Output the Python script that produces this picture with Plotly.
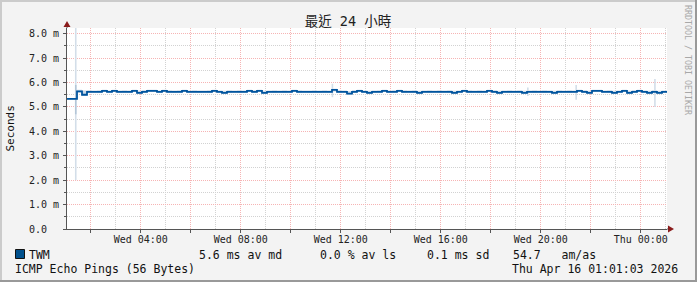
import plotly.graph_objects as go
import pandas as pd

# ---------------- data ----------------
start = "2026-04-15 01:03"
end = "2026-04-16 01:03"
step_minutes = 12

median_ms = [
    5.33, 5.33, 5.64, 5.50, 5.62, 5.62, 5.62, 5.66, 5.62, 5.66,
    5.62, 5.62, 5.62, 5.66, 5.58, 5.62, 5.66, 5.66, 5.62, 5.66,
    5.62, 5.62, 5.62, 5.66, 5.62, 5.62, 5.62, 5.62, 5.62, 5.66,
    5.62, 5.58, 5.62, 5.62, 5.62, 5.62, 5.66, 5.62, 5.66, 5.58,
    5.62, 5.62, 5.62, 5.62, 5.62, 5.66, 5.62, 5.62, 5.62, 5.62,
    5.62, 5.62, 5.62, 5.70, 5.62, 5.62, 5.55, 5.62, 5.66, 5.62,
    5.58, 5.62, 5.62, 5.66, 5.62, 5.62, 5.66, 5.62, 5.62, 5.62,
    5.58, 5.62, 5.62, 5.62, 5.62, 5.62, 5.62, 5.58, 5.62, 5.66,
    5.62, 5.62, 5.62, 5.62, 5.66, 5.62, 5.58, 5.62, 5.62, 5.62,
    5.62, 5.58, 5.62, 5.62, 5.62, 5.62, 5.62, 5.58, 5.62, 5.62,
    5.62, 5.62, 5.66, 5.62, 5.58, 5.66, 5.66, 5.62, 5.62, 5.58,
    5.62, 5.66, 5.58, 5.62, 5.66, 5.62, 5.58, 5.62, 5.58, 5.62,
]
smoke_hi = [
    5.37, 5.37, 5.70, 5.67, 5.68, 5.67, 5.68, 5.71, 5.67, 5.71,
    5.67, 5.68, 5.67, 5.71, 5.66, 5.68, 5.71, 5.71, 5.67, 5.71,
    5.68, 5.67, 5.68, 5.71, 5.67, 5.68, 5.67, 5.67, 5.68, 5.71,
    5.67, 5.66, 5.68, 5.67, 5.68, 5.67, 5.71, 5.68, 5.71, 5.66,
    5.67, 5.68, 5.67, 5.68, 5.67, 5.71, 5.68, 5.67, 5.67, 5.68,
    5.67, 5.68, 5.67, 5.75, 5.68, 5.67, 5.64, 5.68, 5.71, 5.67,
    5.66, 5.67, 5.68, 5.71, 5.67, 5.68, 5.71, 5.68, 5.67, 5.68,
    5.66, 5.67, 5.68, 5.67, 5.68, 5.67, 5.68, 5.66, 5.67, 5.71,
    5.68, 5.67, 5.68, 5.67, 5.71, 5.68, 5.66, 5.67, 5.68, 5.67,
    5.68, 5.66, 5.67, 5.68, 5.67, 5.68, 5.67, 5.66, 5.68, 5.67,
    5.68, 5.67, 5.71, 5.68, 5.66, 5.71, 5.71, 5.67, 5.68, 5.66,
    5.67, 5.71, 5.66, 5.68, 5.71, 5.67, 5.66, 5.68, 5.66, 5.67,
]
smoke_lo = [
    5.29, 5.29, 5.58, 5.45, 5.57, 5.58, 5.57, 5.61, 5.58, 5.61,
    5.57, 5.58, 5.57, 5.61, 5.53, 5.58, 5.61, 5.61, 5.57, 5.61,
    5.58, 5.57, 5.58, 5.61, 5.57, 5.58, 5.57, 5.58, 5.57, 5.61,
    5.58, 5.53, 5.57, 5.58, 5.57, 5.58, 5.61, 5.57, 5.61, 5.53,
    5.58, 5.57, 5.58, 5.57, 5.58, 5.61, 5.57, 5.58, 5.57, 5.58,
    5.57, 5.58, 5.57, 5.63, 5.57, 5.58, 5.50, 5.57, 5.61, 5.58,
    5.53, 5.57, 5.58, 5.61, 5.57, 5.58, 5.61, 5.57, 5.58, 5.57,
    5.53, 5.58, 5.57, 5.58, 5.57, 5.58, 5.57, 5.53, 5.58, 5.61,
    5.57, 5.58, 5.57, 5.58, 5.61, 5.57, 5.53, 5.58, 5.57, 5.58,
    5.57, 5.53, 5.58, 5.57, 5.58, 5.57, 5.58, 5.53, 5.57, 5.58,
    5.57, 5.58, 5.61, 5.57, 5.53, 5.61, 5.61, 5.58, 5.57, 5.53,
    5.58, 5.61, 5.53, 5.57, 5.61, 5.58, 5.53, 5.57, 5.53, 5.58,
]
spike_times = ["2026-04-15 01:24", "2026-04-15 11:40", "2026-04-15 19:29",
               "2026-04-15 21:25", "2026-04-16 00:34"]
spike_lo = [2.00, 5.40, 5.45, 5.30, 5.00]
spike_hi = [8.30, 5.95, 5.80, 5.90, 6.15]
core_times = ["2026-04-15 01:24"]
core_lo = [4.70]
core_hi = [5.90]

x_tickvals = ["2026-04-15 02:00", "2026-04-15 04:00", "2026-04-15 06:00",
              "2026-04-15 08:00", "2026-04-15 10:00", "2026-04-15 12:00",
              "2026-04-15 14:00", "2026-04-15 16:00", "2026-04-15 18:00",
              "2026-04-15 20:00", "2026-04-15 22:00", "2026-04-16 00:00"]
x_ticktext = ["", "Wed 04:00", "", "Wed 08:00", "", "Wed 12:00",
              "", "Wed 16:00", "", "Wed 20:00", "", "Thu 00:00"]
y_tickvals = [0, 1, 2, 3, 4, 5, 6, 7, 8]
y_ticktext = ["0.0\u00a0\u00a0", "1.0 m", "2.0 m", "3.0 m", "4.0 m",
              "5.0 m", "6.0 m", "7.0 m", "8.0 m"]

title_text = "最近\u00a024\u00a0小時"
legend_name = "TWM"
stat_median = "5.6 ms av md"
stat_loss = "0.0 % av ls"
stat_sd = "0.1 ms sd"
stat_amas = "54.7   am/as"
footer_left = "ICMP Echo Pings (56 Bytes)"
footer_right = "Thu Apr 16 01:01:03 2026"
watermark = "RRDTOOL / TOBI OETIKER"

# ---------------- figure ----------------
times = pd.date_range(start=start, periods=len(median_ms), freq=f"{step_minutes}min")
times_ext = list(times) + [pd.Timestamp(end)]

MONO = "DejaVu Sans Mono"
BG = "#f3f3f3"
LINE_BLUE = "#00549e"

fig = go.Figure()

# smoke band (filled between lo and hi, step shaped)
fig.add_trace(go.Scatter(x=times_ext, y=smoke_lo + [smoke_lo[-1]], mode="lines",
                         line=dict(width=0, shape="hv"), hoverinfo="skip",
                         showlegend=False))
fig.add_trace(go.Scatter(x=times_ext, y=smoke_hi + [smoke_hi[-1]], mode="lines",
                         line=dict(width=0, shape="hv"), fill="tonexty",
                         fillcolor="#c9d8e6", hoverinfo="skip", showlegend=False))

# smoke spikes
sx, sy = [], []
for t, lo, hi in zip(spike_times, spike_lo, spike_hi):
    sx += [t, t, None]
    sy += [lo, hi, None]
fig.add_trace(go.Scatter(x=sx, y=sy, mode="lines", line=dict(color="#d3dee9", width=1.6),
                         hoverinfo="skip", showlegend=False))
cx, cy = [], []
for t, lo, hi in zip(core_times, core_lo, core_hi):
    cx += [t, t, None]
    cy += [lo, hi, None]
fig.add_trace(go.Scatter(x=cx, y=cy, mode="lines", line=dict(color="#b4c6d8", width=1.6),
                         hoverinfo="skip", showlegend=False))

# median line
fig.add_trace(go.Scatter(x=times_ext, y=median_ms + [median_ms[-1]], mode="lines",
                         line=dict(color=LINE_BLUE, width=1.8, shape="hv"),
                         hoverinfo="skip", showlegend=False))

L, T, PW, PH = 67, 28, 600, 201
W, H = 697, 282


def px(x):
    return (x - L) / PW


def py(y):
    return (T + PH - y) / PH


axis_font = dict(family=MONO, size=10, color="#222222")
MGRID = "#f6b4b4"
GRID = "#d2d2d2"

fig.update_layout(
    width=W, height=H,
    margin=dict(l=L, r=W - L - PW, t=T, b=H - T - PH, pad=0),
    paper_bgcolor=BG, plot_bgcolor="#ffffff",
    showlegend=False,
    title=dict(text=title_text, x=348 / W, xref="container", xanchor="center",
               y=1 - 21 / H, yref="container", yanchor="middle",
               font=dict(family="DejaVu Sans Mono, Noto Sans CJK TC", size=13.5,
                         color="#222222")),
    xaxis=dict(
        type="date", range=[start, end], fixedrange=True,
        tickmode="array", tickvals=x_tickvals, ticktext=x_ticktext,
        tickangle=0,
        showgrid=True, gridcolor=MGRID, griddash="1px,1px", gridwidth=1,
        minor=dict(dtick=3600000, tick0="2026-04-15 00:00", showgrid=True,
                   gridcolor=GRID, griddash="1px,1px", gridwidth=1,
                   ticks=""),
        ticks="outside", ticklen=3, tickcolor="#555555", tickwidth=1,
        showline=True, linecolor="#555555", linewidth=1, zeroline=False,
        tickfont=axis_font, ticklabelstandoff=-2,
    ),
    yaxis=dict(
        range=[0, 8.235], fixedrange=True,
        tickmode="array", tickvals=y_tickvals, ticktext=y_ticktext,
        showgrid=True, gridcolor=MGRID, griddash="1px,1px", gridwidth=1,
        minor=dict(dtick=0.5, tick0=0, showgrid=True,
                   gridcolor=GRID, griddash="1px,1px", gridwidth=1,
                   ticks="outside", ticklen=2, tickcolor="#555555"),
        ticks="outside", ticklen=3, tickcolor="#555555", tickwidth=1,
        showline=True, linecolor="#555555", linewidth=1, zeroline=False,
        tickfont=axis_font, ticklabelstandoff=2,
    ),
)

shapes = []
# 3D frame of the canvas
shapes.append(dict(type="rect", xref="paper", yref="paper",
                   x0=px(0), x1=px(2), y0=py(H), y1=py(0),
                   fillcolor="#cbcbcb", line=dict(width=0), layer="above"))
shapes.append(dict(type="rect", xref="paper", yref="paper",
                   x0=px(0), x1=px(W), y0=py(2), y1=py(0),
                   fillcolor="#cbcbcb", line=dict(width=0), layer="above"))
shapes.append(dict(type="rect", xref="paper", yref="paper",
                   x0=px(W - 2), x1=px(W), y0=py(H), y1=py(0),
                   fillcolor="#999999", line=dict(width=0), layer="above"))
shapes.append(dict(type="rect", xref="paper", yref="paper",
                   x0=px(0), x1=px(W), y0=py(H), y1=py(H - 2),
                   fillcolor="#999999", line=dict(width=0), layer="above"))
# axis extensions and arrows
shapes.append(dict(type="line", xref="paper", yref="paper",
                   x0=0, x1=0, y0=1, y1=py(24), line=dict(color="#555555", width=1)))
shapes.append(dict(type="line", xref="paper", yref="paper",
                   x0=1, x1=px(670), y0=0, y1=0, line=dict(color="#555555", width=1)))
shapes.append(dict(type="path", xref="paper", yref="paper",
                   path=f"M {px(63.5)},{py(27)} L {px(70.5)},{py(27)} L {px(67)},{py(21)} Z",
                   fillcolor="#8a1b1b", line=dict(width=0)))
shapes.append(dict(type="path", xref="paper", yref="paper",
                   path=f"M {px(668)},{py(225.5)} L {px(668)},{py(232.5)} L {px(674)},{py(229)} Z",
                   fillcolor="#8a1b1b", line=dict(width=0)))
# legend swatch
shapes.append(dict(type="rect", xref="paper", yref="paper",
                   x0=px(15.5), x1=px(24.5), y0=py(258.5), y1=py(249.5),
                   fillcolor="#00508c", line=dict(color="#111111", width=1)))
fig.update_layout(shapes=shapes)

leg_font = dict(family=MONO, size=11.5, color="#111111")
row1 = py(254.5)
row2 = py(268.5)


def ann(text, x, y, font, xanchor="left", **kw):
    return dict(text=text, x=x, y=y, xref="paper", yref="paper", xanchor=xanchor,
                yanchor="middle", showarrow=False, font=font, borderpad=0, **kw)


annotations = [
    ann(legend_name, px(28), row1, leg_font),
    ann(stat_median, px(198), row1, leg_font),
    ann(stat_loss, px(319), row1, leg_font),
    ann(stat_amas, px(512), row1, leg_font),
    ann(stat_sd, px(426), row1, leg_font),
    ann(footer_left, px(14), row2, leg_font),
    ann(footer_right, px(511), row2, leg_font),
    ann("Seconds", px(10), py(128.5), dict(family=MONO, size=11, color="#111111"),
        xanchor="center", textangle=-90),
    ann(watermark, px(688), py(60), dict(family=MONO, size=8.3, color="#a8a8a8"),
        xanchor="center", textangle=90),
]
fig.update_layout(annotations=annotations)

fig.write_html("out.html")
